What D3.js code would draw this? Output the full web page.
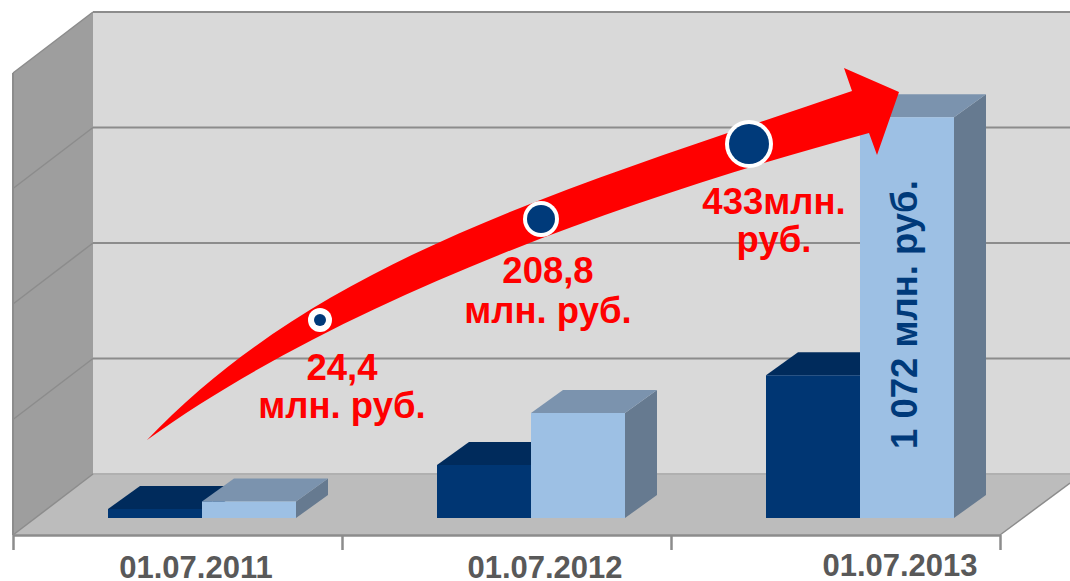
<!DOCTYPE html>
<html>
<head>
<meta charset="utf-8">
<script src="https://cdn.jsdelivr.net/npm/d3@7"></script>
<style>
  html, body { margin: 0; padding: 0; background: #fff; }
  svg { display: block; }
  text { font-family: "Liberation Sans", Arial, sans-serif; font-weight: bold; }
</style>
</head>
<body>
<svg id="chart" width="1070" height="581"></svg>
<script>
var categories = ["01.07.2011", "01.07.2012", "01.07.2013"];
var seriesNames = ["dark", "light"];
var darkValues = [24.4, 142, 382];
var lightValues = [44, 281, 1072];
var gridValues = [0, 309, 618, 927, 1236];
var growthLabels = [["24,4", "млн. руб."], ["208,8", "млн. руб."], ["433млн.", "руб."]];
var barLabel = "1 072 млн. руб.";

var svg = d3.select("#chart");

// the 3d box: front plane of the floor plus the depth offset of the walls
var floorY = 535, wallDx = 80, wallDy = -61, barDx = 32, barDy = -23;
var x = d3.scaleBand().domain(categories).range([13, 1000]);
var xSeries = d3.scaleBand().domain(seriesNames).range([95, 283]);
var y = d3.scaleLinear().domain([0, 1236]).range([518, 56]);
var gridShift = 518 - 474;   // bars stand in front of the back wall

function poly(points, fill) {
    return svg.append("polygon")
        .attr("points", points.map(function(p) { return p.join(","); }).join(" "))
        .attr("fill", fill);
}

// walls and floor
poly([[13 + wallDx, y(1236) - gridShift], [1070, y(1236) - gridShift], [1070, y(0) - gridShift], [13 + wallDx, y(0) - gridShift]], "#d9d9d9");
poly([[13, floorY - 462], [13 + wallDx, floorY + wallDy - 462], [13 + wallDx, floorY + wallDy], [13, floorY]], "#9e9e9e");
poly([[13, floorY], [13 + wallDx, floorY + wallDy], [1070, floorY + wallDy], [1070, 483], [1000, floorY]], "#bcbcbc");

// gridlines, back wall then side wall
svg.append("g").selectAll("line").data(gridValues).enter().append("line")
    .attr("x1", 13 + wallDx).attr("x2", 1070)
    .attr("y1", function(d) { return y(d) - gridShift; })
    .attr("y2", function(d) { return y(d) - gridShift; })
    .attr("stroke", function(d) { return d === 0 ? "#b0b0b0" : "#8c8c8c"; })
    .attr("stroke-width", 2);
svg.append("g").selectAll("line").data(gridValues).enter().append("line")
    .attr("x1", 13).attr("x2", 13 + wallDx)
    .attr("y1", function(d) { return y(d) - gridShift - wallDy; })
    .attr("y2", function(d) { return y(d) - gridShift; })
    .attr("stroke", "#8c8c8c")
    .attr("stroke-width", 1.5);
svg.append("line").attr("x1", 13).attr("x2", 13).attr("y1", floorY - 462).attr("y2", floorY)
    .attr("stroke", "#8c8c8c").attr("stroke-width", 2);
svg.append("line").attr("x1", 1000).attr("x2", 1070).attr("y1", floorY).attr("y2", 483)
    .attr("stroke", "#8c8c8c").attr("stroke-width", 1.5);

// x axis, ticks at the band edges
var edgeScale = d3.scaleLinear().domain([0, categories.length]).range(x.range());
var axis = svg.append("g")
    .attr("transform", "translate(0," + floorY + ")")
    .call(d3.axisBottom(edgeScale).tickValues(d3.range(categories.length + 1)).tickSize(15).tickSizeOuter(0).tickFormat(""));
axis.selectAll("path,line").attr("stroke", "#8c8c8c").attr("stroke-width", 2.5);

var labelNudge = [18.5, 38.5, 64.5], labelBase = [578, 578, 576];
svg.append("g").selectAll("text").data(categories).enter().append("text")
    .attr("x", function(d, i) { return x(d) + x.bandwidth() / 2 + labelNudge[i]; })
    .attr("y", function(d, i) { return labelBase[i]; })
    .attr("text-anchor", "middle")
    .attr("font-size", 31)
    .attr("fill", "#595959")
    .text(function(d) { return d; });

// one 3d bar
function drawBar(cat, value, series, colors) {
    var x0 = x(cat) + xSeries(series), x1 = x0 + xSeries.bandwidth();
    var top = y(value), base = y(0);
    poly([[x1, top], [x1 + barDx, top + barDy], [x1 + barDx, base + barDy], [x1, base]], colors[2]);
    poly([[x0, top], [x0 + barDx, top + barDy], [x1 + barDx, top + barDy], [x1, top]], colors[1]);
    poly([[x0, top], [x1, top], [x1, base], [x0, base]], colors[0]);
}
categories.forEach(function(c, i) {
    drawBar(c, darkValues[i], "dark", ["#003673", "#002b5c", "#002b5c"]);
    drawBar(c, lightValues[i], "light", ["#9dc0e4", "#7b93ae", "#667a90"]);
});

// value written up the tall bar
svg.append("text")
    .attr("transform", "translate(917,449) rotate(-90)")
    .attr("font-size", 36.5)
    .attr("fill", "#003a7a")
    .text(barLabel);

// growth arrow, hand placed over the bars
var arrow = d3.path();
arrow.moveTo(147, 440);
arrow.bezierCurveTo(317, 262, 552, 193, 852, 91);
arrow.lineTo(844, 68);
arrow.lineTo(899, 92);
arrow.lineTo(877, 155);
arrow.lineTo(869, 133);
arrow.bezierCurveTo(640, 195, 347, 296, 147, 440);
arrow.closePath();
svg.append("path").attr("d", arrow.toString()).attr("fill", "#ff0000");

var markers = [[320, 320, 12, 6], [541, 219, 18, 14], [749, 144, 24, 20]];
markers.forEach(function(m) {
    svg.append("circle").attr("cx", m[0]).attr("cy", m[1]).attr("r", m[2]).attr("fill", "#fff");
    svg.append("circle").attr("cx", m[0]).attr("cy", m[1]).attr("r", m[3]).attr("fill", "#003a7a");
});

var labelPos = [[342, 380, 418], [548, 283, 323], [774, 214, 252]];
growthLabels.forEach(function(lines, i) {
    lines.forEach(function(t, j) {
        svg.append("text")
            .attr("x", labelPos[i][0])
            .attr("y", labelPos[i][j + 1])
            .attr("text-anchor", "middle")
            .attr("font-size", 36.5)
            .attr("fill", "#ff0000")
            .text(t);
    });
});
</script>
</body>
</html>
